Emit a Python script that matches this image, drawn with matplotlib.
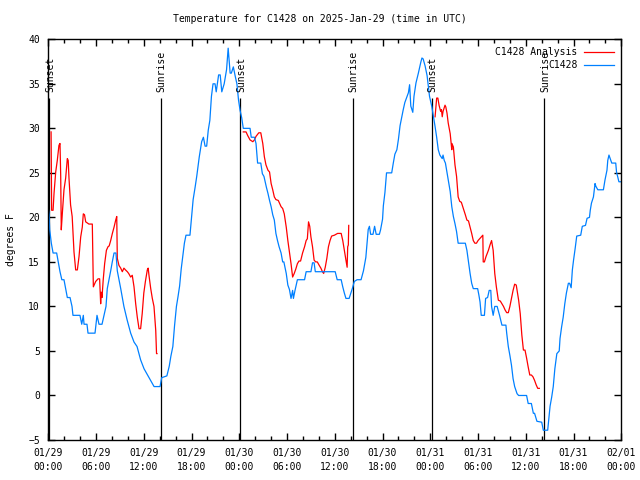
import numpy as np
import matplotlib
matplotlib.use("Agg")
import matplotlib.pyplot as plt

# hours since 2025-01-29 00:00 UTC, temperatures in degrees F

# station C1428 observations
obs_hours = [0, 0.1, 0.18, 0.38, 0.6, 1.05, 1.47, 1.7, 1.97, 2.39, 2.73, 2.98, 3.1, 3.98,
             4.2, 4.4, 4.49, 4.86, 4.99, 5.87, 6.12, 6.37, 6.75, 7.0, 7.25, 7.41, 7.63, 7.84,
             8.04, 8.26, 8.5, 8.67, 9.1, 9.5, 9.9, 10.35, 10.77, 11.15, 11.6, 12.03, 12.66,
             13.29, 14.04, 14.25, 14.9, 15.2, 15.4, 15.65, 15.86, 16.1, 16.3, 16.5, 16.7,
             16.9, 17.1, 17.3, 17.8, 18.0, 18.2, 18.45, 18.65, 18.97, 19.27, 19.49, 19.7,
             19.9, 20.1, 20.3, 20.5, 20.7, 20.95, 21.1, 21.4, 21.6, 21.8, 22.1, 22.4, 22.6,
             22.85, 23.0, 23.25, 23.5, 23.7, 23.9, 24.1, 24.3, 24.5, 25.35, 25.5, 25.9, 26.1,
             26.3, 26.7, 26.9, 27.1, 27.4, 27.6, 27.8, 28.0, 28.2, 28.4, 28.6, 28.8, 29.0,
             29.25, 29.45, 29.6, 29.9, 30.1, 30.3, 30.5, 30.7, 30.8, 31.0, 31.3, 32.2, 32.4,
             33.0, 33.2, 33.4, 33.55, 36.05, 36.3, 36.8, 37.0, 37.2, 37.4, 37.8, 38.05, 38.2,
             38.45, 38.8, 39.3, 39.6, 39.9, 40.2, 40.35, 40.5, 40.8, 41.0, 41.2, 41.6, 41.75,
             42.0, 42.1, 42.3, 42.5, 43.15, 43.35, 43.55, 43.8, 44.0, 44.2, 44.4, 44.6, 44.8,
             45.0, 45.25, 45.4, 45.55, 45.8, 45.95, 46.2, 46.5, 46.8, 46.95, 47.1, 47.35,
             47.6, 47.9, 48.2, 48.4, 48.6, 48.8, 49.0, 49.2, 49.5, 49.6, 49.75, 49.9, 50.05,
             50.25, 50.5, 50.7, 50.9, 51.1, 51.3, 51.5, 52.4, 52.6, 52.8, 53.0, 53.2, 53.4,
             53.95, 54.1, 54.25, 54.4, 54.8, 54.95, 55.2, 55.4, 55.6, 55.7, 55.9, 56.1, 56.4,
             56.7, 57.0, 57.5, 57.6, 57.8, 58.0, 58.2, 58.4, 58.6, 58.9, 59.1, 60.1, 60.3,
             60.7, 60.95, 61.1, 61.4, 62.0, 62.2, 62.75, 62.9, 63.05, 63.25, 63.45, 63.65,
             63.9, 64.2, 64.3, 64.5, 64.7, 64.9, 65.1, 65.35, 65.5, 65.7, 65.85, 66.0, 66.2,
             66.4, 66.9, 67.1, 67.5, 67.7, 68.0, 68.1, 68.25, 68.5, 68.7, 68.8, 69.05, 69.75,
             69.95, 70.2, 70.3, 70.45, 70.8, 71.3, 71.4, 71.7, 72.0]
obs_temps = [21, 20.3, 18.6, 17.1, 16, 16, 13.9, 13, 13, 11, 11, 10, 9, 9,
             8, 9, 8, 8, 7, 7, 9, 8, 8, 9, 10, 12, 13, 14,
             15, 16, 16, 14, 12, 10, 8.5, 7, 6, 5.5, 4, 3, 2,
             1, 1, 2, 2.2, 3.3, 4.4, 5.5, 7.8, 10, 11.1, 12.3, 14.2,
             15.7, 17.1, 18, 18, 20.0, 22.0, 23.4, 24.6, 26.8, 28.5, 29, 28,
             28, 29.8, 30.9, 33.6, 35, 35, 34.1, 36, 36, 34.1, 35, 36.6, 39,
             36.2, 36.2, 36.9, 35.8, 35.0, 33.2, 32.0, 31.2, 30, 30, 29, 29, 28.3,
             26.1, 26.1, 24.9, 24.6, 23.4, 22.7, 21.9, 21.2, 20.3, 19.7, 18.2, 17.4, 16.7,
             16, 15, 15, 13.7, 12.4, 11.9, 10.9, 11.8, 10.9, 11.8, 13, 13, 13.9,
             13.9, 14.9, 14.9, 13.9, 13.9, 13, 13, 12.2, 11.5, 10.9, 10.9, 11.6, 12,
             12.8, 13, 13, 14, 15.5, 18.65, 19, 18.1, 18.1, 19, 18.1, 18.1, 18.6,
             19.8, 21.3, 22.8, 25, 25, 26.1, 27.1, 27.6, 28.8, 30.3, 31.2, 32.1, 32.9,
             33.4, 34, 34.9, 32.5, 31.8, 33.6, 35.1, 36.2, 37.4, 37.9, 37.8, 37,
             35.9, 33.6, 32.4, 31.3, 30.2, 29, 27.6, 27, 26.6, 27, 26.4, 26.1, 25.3,
             24.2, 22.9, 21.2, 20.1, 19.3, 18.4, 17.1, 17.1, 16.3, 15, 13.7, 12.6, 12,
             12, 11.3, 10.5, 9, 9, 10.9, 11.0, 11.8, 11.8, 10, 9, 10, 10,
             9, 7.9, 7.9, 7, 5.5, 4.5, 3.4, 1.9, 1.0, 0.2, 0, 0, -0.9,
             -0.9, -2, -2, -2.9, -3, -3.9, -3.9, -2.5, -1.2, -0.2, 1, 3.0,
             4.7, 5, 6.4, 7.7, 8.8, 10.3, 11.5, 12.6, 12.6, 12.1, 14.1, 15.2, 16.5,
             17.9, 18, 19, 19.1, 19.9, 20, 20.8, 21.6, 22.3, 23.8, 23.5, 23.1, 23.1,
             24.2, 25.3, 26.4, 27, 26.1, 26.1, 25.1, 24, 24]

# analysis runs, one segment per night
ana1_hours = [0.35, 0.42, 0.6, 0.72, 0.93, 1.13, 1.34, 1.47, 1.56, 1.63, 1.76, 1.97, 2.18,
              2.39, 2.5, 2.6, 2.8, 3.0, 3.23, 3.44, 3.65, 3.86, 4.07, 4.27, 4.4, 4.55, 4.7,
              5.1, 5.53, 5.66, 5.95, 6.25, 6.45, 6.58, 6.65, 6.75, 6.9, 7.08, 7.3, 7.5, 7.65,
              7.84, 8.05, 8.26, 8.47, 8.6, 8.67, 8.88, 9.1, 9.3, 9.5, 9.7, 9.93, 10.1, 10.35,
              10.55, 10.77, 10.98, 11.18, 11.4, 11.6, 11.8, 12.0, 12.2, 12.44, 12.55, 12.65,
              12.87, 13.07, 13.28, 13.5, 13.6, 13.65]
ana1_temps = [29.6, 20.8, 20.8, 22.7, 25.1, 26.4, 28.1, 28.3, 24.6, 18.6, 20.4, 23.1, 24.4,
              26.6, 26.4, 24.4, 21.4, 20.1, 16.1, 14.1, 14.1, 15.6, 17.8, 18.9, 20.4, 20.3, 19.5,
              19.25, 19.25, 12.2, 12.8, 13.1, 13.1, 10.3, 11.6, 11.0, 13, 14.8, 16.3, 16.7, 16.8,
              17.4, 18.2, 18.9, 19.7, 20.1, 15.4, 14.6, 14.3, 13.9, 14.3, 14.1, 13.9, 13.7, 13.3,
              13.5, 12.2, 10.3, 8.8, 7.5, 7.5, 9.2, 11.5, 12.8, 14.1, 14.3, 13.5,
              12, 10.9, 10, 7.3, 4.7, 4.7]

ana2_hours = [24.5, 24.85, 25.05, 25.35, 25.7, 25.9, 26.1, 26.45, 26.7, 26.95, 27.15, 27.35,
              27.6, 27.8, 28.0, 28.2, 28.4, 28.6, 28.9, 29.25, 29.45, 29.65, 29.9, 30.1, 30.3,
              30.5, 30.7, 30.9, 31.1, 31.3, 31.5, 31.7, 31.95, 32.2, 32.4, 32.55, 32.7, 32.85,
              33.0, 33.2, 33.4, 33.6, 33.8, 34.05, 34.25, 34.45, 34.6, 34.8, 35.0, 35.2, 35.4,
              35.6, 35.95, 36.35, 36.8, 37.0, 37.2, 37.4, 37.55, 37.62, 37.7, 37.75]
ana2_temps = [29.6, 29.6, 29.2, 28.7, 28.5, 28.7, 29.1, 29.5, 29.5, 28.3, 26.8, 25.9,
              25.3, 25.1, 23.8, 23.1, 22.3, 22.0, 21.9, 21.2, 21.0, 20.4, 18.9, 17.4, 16.1,
              14.8, 13.3, 13.7, 14.2, 14.8, 15.1, 15.1, 16, 16.7, 17.4, 17.6, 19.5, 19.0,
              17.8, 16.7, 15.2, 15, 15, 14.6, 14.3, 13.9, 13.7, 14.4, 15.4, 16.7, 17.4,
              17.9, 18.0, 18.2, 18.2, 17.4, 16.3, 15.2, 14.4, 16.7, 16.9, 19.1]

ana3_hours = [48.6, 48.8, 48.95, 49.1, 49.3, 49.4, 49.5, 49.6, 49.85, 49.95, 50.1, 50.25,
              50.5, 50.6, 50.7, 50.72, 50.9, 51.1, 51.3, 51.5, 51.7, 51.9, 52.15, 52.4, 52.6,
              52.8, 53.0, 53.2, 53.4, 53.6, 53.8, 54.0, 54.4, 54.6, 54.65, 54.8, 55.0, 55.3,
              55.5, 55.7, 55.9, 56.1, 56.3, 56.55, 56.8, 57.0, 57.2, 57.4, 57.6, 57.8, 58.0,
              58.2, 58.4, 58.6, 58.8, 59.1, 59.3, 59.5, 59.7, 59.9, 60.1, 60.3, 60.5, 60.7,
              60.9, 61.1, 61.3, 61.5, 61.7]
ana3_temps = [31.3, 33.4, 33.4, 32.6, 31.9, 32.1, 31.3, 31.9, 32.6, 32.4, 31.7, 30.6,
              29.4, 28.5, 27.6, 28.3, 27.9, 25.9, 24.6, 22.3, 21.8, 21.7, 21.0, 20.3, 19.7,
              19.6, 18.9, 18.2, 17.4, 17.1, 17.1, 17.4, 17.8, 18, 15, 15, 15.6, 16.3,
              16.9, 17.4, 16.3, 13.7, 12.2, 10.7, 10.6, 10.3, 10, 9.6, 9.3, 9.3, 10,
              10.9, 11.8, 12.5, 12.4, 10.7, 9.2, 6.8, 5.1, 5.1, 4.2, 3.2, 2.3, 2.3,
              2.1, 1.7, 1.2, 0.8, 0.8]

sunset_hours = [0.15, 24.15, 48.2]
sunrise_hours = [14.1, 38.25, 62.3]

tick_hours = list(range(0, 73, 6))
tick_labels = ["01/29\n00:00", "01/29\n06:00", "01/29\n12:00", "01/29\n18:00",
               "01/30\n00:00", "01/30\n06:00", "01/30\n12:00", "01/30\n18:00",
               "01/31\n00:00", "01/31\n06:00", "01/31\n12:00", "01/31\n18:00",
               "02/01\n00:00"]

RED = "#ff0000"
BLUE = "#0080ff"
FS = 7
LW = 0.9
plt.rcParams['font.family'] = 'DejaVu Sans Mono'

fig = plt.figure(figsize=(6.4, 4.8), dpi=100)
ax = fig.add_axes([48.3 / 640, 1 - 440 / 480, (621.3 - 48.3) / 640, (440 - 39.3) / 480])

# sunrise / sunset markers
for h in sunset_hours:
    ax.vlines(h, -5, 33.4, color="black", lw=LW)
    ax.text(h + 0.1, 34.1, "Sunset", rotation=90, ha="center", va="bottom", fontsize=FS)
for h in sunrise_hours:
    ax.vlines(h, -5, 33.4, color="black", lw=LW)
    ax.text(h + 0.1, 34.1, "Sunrise", rotation=90, ha="center", va="bottom", fontsize=FS)

ax.plot(ana1_hours, ana1_temps, color=RED, lw=LW, label="C1428 Analysis")
ax.plot(ana2_hours, ana2_temps, color=RED, lw=LW)
ax.plot(ana3_hours, ana3_temps, color=RED, lw=LW)
ax.plot(obs_hours, obs_temps, color=BLUE, lw=LW, label="C1428")

ax.set_xlim(0, 72)
ax.set_ylim(-5, 40)
ax.set_xticks(tick_hours)
ax.set_xticklabels(tick_labels, fontsize=FS)
for lab in ax.get_xticklabels():
    lab.set_linespacing(1.45)
ax.set_xticks(np.arange(0, 73, 2), minor=True)
ax.set_yticks(np.arange(-5, 41, 5))
ax.tick_params(axis="y", labelsize=FS)
ax.tick_params(which="both", direction="in", top=True, right=True, width=1)
ax.tick_params(which="major", length=5, pad=6)
ax.tick_params(which="minor", length=3)
for sp in ax.spines.values():
    sp.set_linewidth(1)

ax.set_ylabel("degrees F", fontsize=FS, labelpad=9)
fig.text(0.5, 1 - 19 / 480, "Temperature for C1428 on 2025-Jan-29 (time in UTC)",
         ha="center", va="center", fontsize=FS)

ax.legend(loc="upper right", frameon=False, markerfirst=False, fontsize=FS,
          handlelength=3.0, handletextpad=0.7, labelspacing=0.35, borderaxespad=0.4)

fig.savefig("out.png", dpi=100)
